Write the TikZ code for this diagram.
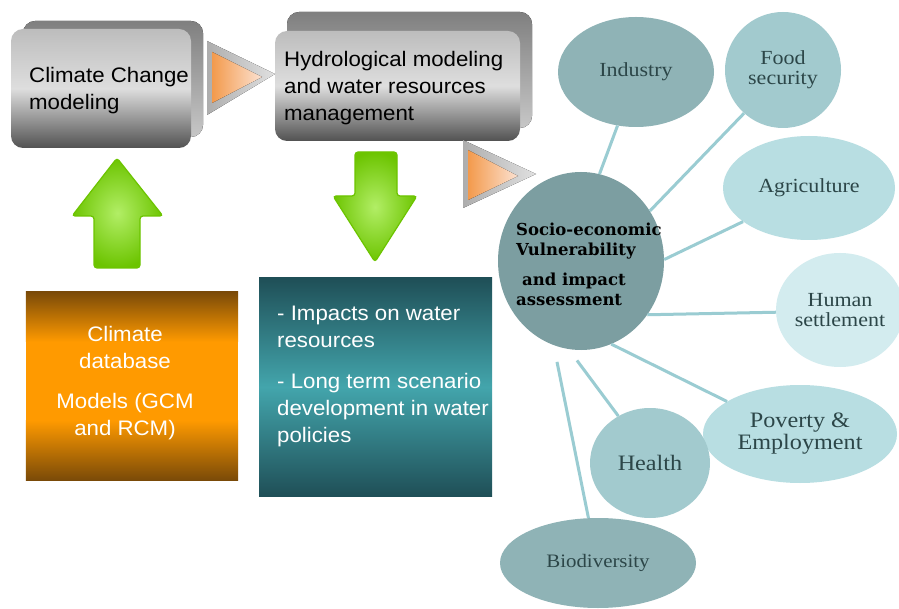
\documentclass[tikz,border=0pt]{standalone}
\usepackage{fontspec}
\setmainfont{Liberation Sans}[FakeStretch=1.06]
\newfontfamily\lblfont{Liberation Serif}[FakeStretch=1.1]
\newfontfamily\centfont{DejaVu Serif}
\usetikzlibrary{shapes.geometric}
\definecolor{conncol}{HTML}{9ACCD2}
\definecolor{lblcol}{HTML}{2C4648}
\definecolor{ellA}{HTML}{8FB3B6}
\definecolor{ellB}{HTML}{A2CACE}
\definecolor{ellC}{HTML}{B8DEE2}
\definecolor{ellD}{HTML}{D3ECEF}
\definecolor{ellS}{HTML}{7C9EA1}
\definecolor{brownE}{HTML}{7A4A08}
\definecolor{orangeM}{HTML}{FF9A00}
\definecolor{tealE}{HTML}{1F4F57}
\definecolor{tealM}{HTML}{43A5AC}
\definecolor{grnE}{HTML}{6CC400}
\definecolor{grnI}{HTML}{B2EE66}
\definecolor{triO}{HTML}{F39A4C}
\definecolor{triL}{HTML}{FCE2D2}
\tikzset{
  frontbox/.style={rectangle, rounded corners=12pt, top color=black!26, bottom color=black!68, middle color=black!13, inner sep=0pt},
  backbox/.style={rounded corners=12pt, top color=black!50, bottom color=black!22},
  boxtext/.style={font=\fontsize{21}{27}\selectfont, inner sep=0pt, align=left, anchor=north west},
  ell/.style={ellipse, inner sep=0pt, text=lblcol, align=center, font=\lblfont\fontsize{20}{20}\selectfont},
  conn/.style={draw=conncol, line width=3pt},
  garrow/.style={inner color=grnI, outer color=grnE, draw=grnE, line width=1.2pt, rounded corners=3pt},
  trigray/.style={left color=black!32, right color=black!12},
  triorange/.style={left color=triO, right color=triL},
}
\begin{document}
\begin{tikzpicture}[x=1pt,y=-1pt]
\clip (0,0) rectangle (899,609);
\fill[white] (0,0) rectangle (899,609);
% climate change modeling box
\fill[backbox] (23,21) rectangle (203,137);
\node[frontbox, minimum width=180pt, minimum height=119pt] (ccm) at (101,88.5) {};
\node[boxtext] (ccmtxt) at (29,67) {Climate Change\\modeling};
% hydrological box
\fill[backbox] (287,12) rectangle (532,128);
\node[frontbox, minimum width=245pt, minimum height=110pt] (hyd) at (397.5,86) {};
\node[boxtext] (hydtxt) at (284,51) {Hydrological modeling\\and water resources\\management};
% triangles
\fill[trigray] (207,41) -- (275,74) -- (207,115) -- cycle;
\fill[triorange] (212,52) -- (262,77) -- (212,103) -- cycle;
\fill[trigray] (463,140) -- (536,174) -- (463,208) -- cycle;
\fill[triorange] (468,150) -- (518,176) -- (468,200) -- cycle;
% green arrows
\draw[garrow] (117,158) -- (163,216) -- (140,216) -- (140,268) -- (94,268) -- (94,216) -- (72,216) -- cycle;
\draw[garrow] (355,152) -- (397,152) -- (397,196) -- (417,196) -- (375,262) -- (333,196) -- (355,196) -- cycle;
% climate database box
\node[rectangle, fill=orangeM, minimum width=212pt, minimum height=188pt, inner sep=0pt] (cdb) at (132,386) {};
\fill[top color=brownE, bottom color=orangeM] (cdb.north west) rectangle ([yshift=-50pt]cdb.north east);
\fill[top color=orangeM, bottom color=brownE] ([yshift=60pt]cdb.south west) rectangle (cdb.south east);
\node[boxtext, align=center, anchor=north, text=white] (cdbtxt) at (125,326) {Climate\\database\\[13pt]Models (GCM\\and RCM)};
% impacts box
\node[rectangle, top color=tealE, bottom color=tealE, middle color=tealM, minimum width=233pt, minimum height=218pt, inner sep=0pt] (imp) at (375.5,387) {};
\node[boxtext, text=white] (imptxt) at (277,306) {- Impacts on water\\resources\\[14pt]- Long term scenario\\development in water\\policies};
% ellipses
\node[ell, fill=ellA, minimum width=156pt, minimum height=110pt] (ind) at (636,72) {Industry};
\node[ell, fill=ellB, minimum width=116pt, minimum height=116pt] (food) at (783,70) {Food\\security};
\node[ell, fill=ellC, minimum width=172pt, minimum height=104pt] (agri) at (809,188) {Agriculture};
\node[ell, fill=ellD, minimum width=128pt, minimum height=114pt] (hum) at (840,310) {Human\\settlement};
\node[ell, fill=ellC, minimum width=194pt, minimum height=98pt, font=\lblfont\fontsize{22}{22}\selectfont] (pov) at (800,434) {Poverty \&\\Employment};
\node[ell, fill=ellB, minimum width=120pt, minimum height=110pt, font=\lblfont\fontsize{22}{22}\selectfont] (hea) at (650,463) {Health};
\node[ell, fill=ellA, minimum width=196pt, minimum height=90pt, font=\lblfont\fontsize{19}{19}\selectfont] (bio) at (598,563) {Biodiversity};
\node[ell, fill=ellS, minimum width=166pt, minimum height=178pt] (soc) at (581,261) {};
\node[font=\centfont\bfseries\fontsize{16.5}{20}\selectfont, align=left, anchor=north west, inner sep=0pt] (soctxt) at (516,223) {Socio-economic\\Vulnerability\\[10pt]\hspace*{6pt}and impact\\assessment};
% connectors
\draw[conn] (soc.78) -- (ind.251);
\draw[conn] (soc.36) -- (food.228);
\draw[conn] (soc.1) -- (agri.207);
\draw[conn] (soc.-39) -- (hum.182);
\draw[conn] (soc.-70) -- (pov.156);
\draw[conn, shorten <=14pt] (soc.-98) -- (hea.124);
\draw[conn, shorten <=17pt] (soc.-108) -- (bio.102);
\end{tikzpicture}
\end{document}
